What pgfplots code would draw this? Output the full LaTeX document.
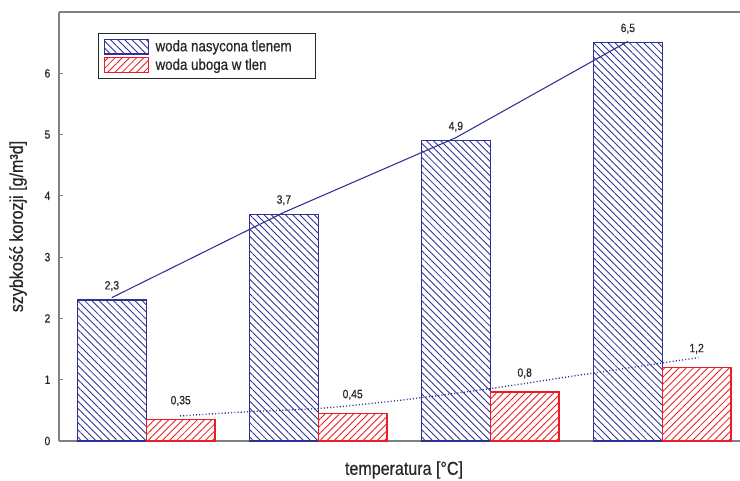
\documentclass[border=0pt]{standalone}
\usepackage{fontspec}
\setmainfont{Liberation Sans}[FakeStretch=0.86, FakeBold=0.6]
\usepackage{pgfplots}
\pgfplotsset{compat=1.18}
\usetikzlibrary{patterns.meta}

\definecolor{navyC}{RGB}{46,49,146}
\definecolor{redC}{RGB}{237,28,36}
\definecolor{axisgray}{RGB}{128,128,128}
\definecolor{txt}{RGB}{40,40,40}

\begin{document}
\begin{tikzpicture}
\begin{axis}[
  scale only axis,
  width=510.75pt, height=321.75pt,
  xmin=0.4924, xmax=4.452,
  ymin=0, ymax=7,
  axis x line=bottom, axis y line=left,
  axis line style={-, axisgray, line width=1.2pt},
  xtick=\empty,
  ytick={0,1,2,3,4,5,6},
  ytick pos=left,
  tick style={axisgray, line width=0.8pt},
  major tick length=3pt,
  tick align=inside,
  yticklabel style={font=\fontsize{9}{10}\selectfont, text=txt, xshift=-3pt},
  /pgf/number format/assume math mode=true,
  /pgf/number format/use comma,
  xlabel={temperatura [°C]},
  ylabel={szybkość korozji [g/m³d]},
  every axis x label/.style={at={(axis description cs:0.5066,-0.0676)}, anchor=center, font=\fontsize{14}{16}\selectfont, text=txt},
  every axis y label/.style={at={(axis description cs:-0.0602,0.5)}, anchor=center, rotate=90, font=\fontsize{14}{16}\selectfont, text=txt},
  legend style={at={(0.0573,0.951)}, anchor=north west, draw=txt, line width=0.6pt, font=\fontsize{11.6}{13}\selectfont, text=txt, row sep=0pt, column sep=3pt, inner xsep=4pt, inner ysep=3pt},
  legend cell align=left,
  clip=false,
]
\addplot[ybar, bar width=0.4, bar shift=0, draw=navyC, line width=0.9pt,
  pattern={Lines[angle=-45,distance=3.8pt,line width=0.65pt]}, pattern color=navyC,
  legend image code/.code={\draw[navyC, line width=0.9pt, pattern={Lines[angle=-45,distance=3.8pt,line width=0.65pt]}, pattern color=navyC] (0pt,-5.5pt) rectangle (33pt,5.5pt);},
  nodes near coords,
  every node near coord/.append style={font=\fontsize{9}{10}\selectfont, text=txt, yshift=3pt}]
  coordinates {(0.8,2.3) (1.8,3.7) (2.8,4.9) (3.8,6.5)};
\addlegendentry{woda nasycona tlenem\hspace*{12pt}}
\addplot[ybar, bar width=0.4, bar shift=0, draw=redC, line width=0.9pt,
  pattern={Lines[angle=45,distance=3.8pt,line width=0.65pt]}, pattern color=redC,
  legend image code/.code={\draw[redC, line width=0.9pt, pattern={Lines[angle=45,distance=3.8pt,line width=0.65pt]}, pattern color=redC] (0pt,-5.5pt) rectangle (33pt,5.5pt);},
  nodes near coords,
  every node near coord/.append style={font=\fontsize{9}{10}\selectfont, text=txt, yshift=6.5pt}]
  coordinates {(1.2,0.35) (2.2,0.45) (3.2,0.8) (4.2,1.2)};
\addlegendentry{woda uboga w tlen}
\addplot[navyC, line width=0.8pt, forget plot]
  coordinates {(0.8,2.34) (1.8,3.73) (2.8,4.95) (3.8,6.52)};
\addplot[navyC, line width=1pt, dash pattern=on 0.8pt off 1.6pt, smooth, forget plot]
  coordinates {(1.196,0.41) (1.613,0.48) (2.0,0.53) (2.30,0.61) (2.61,0.71) (3.014,0.86) (3.46,1.05) (4.21,1.36)};
\draw[axisgray, line width=1.2pt] (rel axis cs:0,1) -- (rel axis cs:1,1);
\end{axis}
\pgfresetboundingbox
\path (-44.25pt,-30pt) rectangle (510.75pt,330.75pt);
\end{tikzpicture}
\end{document}
